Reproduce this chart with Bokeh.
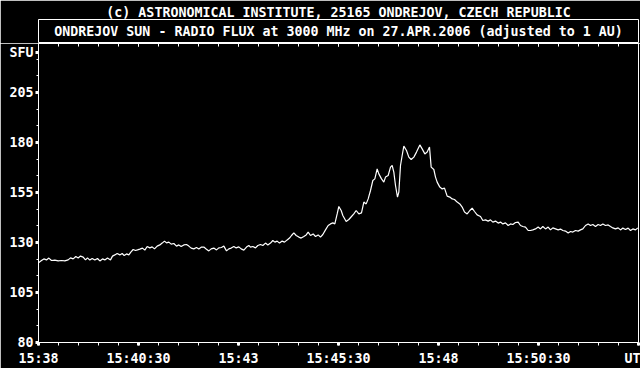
from bokeh.plotting import figure
from bokeh.models import Range1d, FixedTicker, LinearAxis, Label
from bokeh.layouts import column
from bokeh.embed import file_html
from bokeh.resources import INLINE

copyright_text = "(c) ASTRONOMICAL INSTITUTE, 25165 ONDREJOV, CZECH REPUBLIC"
box_title = "ONDREJOV SUN - RADIO FLUX at 3000 MHz on 27.APR.2006 (adjusted to 1 AU)"

# seconds after 15:38:00 UT
t_sec = [0, 4.5, 8, 12, 15.5, 19.5, 24.5, 29.5, 34.5, 39.5, 44.5, 48, 52, 56, 59.5, 63, 67, 70.5,
         73.5, 77, 80.5, 84.5, 88.5, 92, 96, 99.5, 103.5, 108, 111, 114.5, 118, 122, 125.5, 128.5,
         132, 135.5, 138.5, 142, 145.5, 148.5, 152, 156, 159.5, 163, 167, 170.5, 174, 178, 182,
         185.5, 189, 192, 195.5, 199, 203, 207, 210.5, 214, 218, 222, 225.5, 229, 233, 237, 240.5,
         244.5, 248, 251.5, 255.5, 259, 263, 267, 270.5, 274.5, 278, 282, 285.5, 289, 293, 296.5,
         300.5, 304, 308, 312, 315.5, 318, 321.5, 325.5, 329, 333, 336.5, 340.5, 344, 348, 351.5,
         354.5, 358, 361.5, 365.5, 369, 373, 376.5, 379.5, 383, 386.5, 390.5, 394, 398, 401.5,
         404.5, 408, 412, 415.5, 419.5, 423, 426.5, 430.5, 434.5, 438, 441.5, 444.5, 448, 450.5,
         454, 456.5, 461.5, 465.5, 469.5, 473, 476.5, 480.5, 484.5, 488, 491.5, 494.5, 498, 501.5,
         504.5, 508, 510.5, 514.5, 518, 520.5, 524.5, 528, 530.5, 533, 535.5, 538.5, 540.5, 543,
         545.5, 548, 552, 555.5, 559, 563, 567, 572, 575.5, 579.5, 583, 586.5, 589, 593, 595.5,
         598, 602, 605.5, 609, 613, 617, 620.5, 624, 628, 632, 635.5, 639, 643, 647, 650.5, 654,
         658, 663, 666.5, 670.5, 674.5, 678, 681.5, 685.5, 689.5, 693, 696.5, 700.5, 704.5, 708,
         711.5, 715.5, 719.5, 723, 726.5, 730.5, 734.5, 738, 741.5, 745.5, 749.5, 753, 756.5,
         760.5, 764.5, 768, 771.5, 775.5, 779.5, 783, 786.5, 790.5, 794.5, 798, 801.5, 805.5,
         809.5, 813, 816.5, 820.5, 824.5, 828, 831.5, 835.5, 839.5, 843, 846.5, 850.5, 854.5,
         858, 861.5, 865.5, 869.5, 873, 876.5, 880.5, 884.5, 888, 891.5, 895.5, 899]

flux_sfu = [119.9, 121.0, 121.8, 121.3, 122.2, 121.0, 121.2, 120.8, 121.0, 120.8, 121.3, 122.3, 121.8,
            123.0, 122.3, 123.2, 122.7, 121.3, 122.3, 121.2, 122.0, 121.2, 122.0, 120.8, 121.8, 121.3,
            122.2, 121.3, 123.2, 123.8, 124.5, 123.8, 124.5, 123.5, 124.3, 123.8, 125.2, 126.5, 126.0,
            126.3, 126.7, 127.2, 126.2, 128.0, 127.3, 127.8, 126.8, 128.2, 128.8, 129.7, 130.7, 129.8,
            130.2, 129.2, 129.5, 128.2, 128.8, 128.0, 128.8, 129.0, 128.2, 127.2, 126.8, 127.5, 126.8,
            127.7, 127.7, 126.8, 125.8, 126.8, 127.2, 126.3, 127.3, 127.5, 128.2, 125.8, 126.8, 127.2,
            128.0, 127.3, 127.8, 126.8, 126.2, 127.7, 128.5, 127.7, 128.0, 127.3, 128.5, 129.0, 128.5,
            129.7, 128.8, 129.7, 131.0, 130.2, 130.7, 129.7, 130.7, 130.2, 131.3, 132.2, 133.5, 134.8,
            133.5, 132.7, 132.2, 133.0, 133.8, 135.2, 133.5, 134.3, 133.0, 133.8, 132.7, 134.0, 136.3,
            138.5, 139.3, 139.8, 139.3, 144.3, 148.0, 146.0, 143.5, 140.5, 141.5, 143.0, 144.3, 146.0,
            144.3, 144.8, 150.2, 149.3, 151.8, 156.0, 161.0, 161.8, 166.8, 164.3, 161.8, 160.2, 162.7,
            163.5, 167.7, 168.5, 165.2, 158.5, 152.7, 155.2, 168.5, 173.5, 178.2, 176.0, 172.7, 171.5,
            172.7, 175.2, 178.8, 176.8, 174.3, 175.2, 177.7, 167.7, 166.5, 162.7, 160.2, 157.7, 156.8,
            157.2, 153.2, 152.7, 151.8, 151.5, 150.2, 149.3, 147.7, 145.2, 144.3, 146.0, 147.2, 145.5,
            143.8, 143.0, 141.0, 141.3, 140.7, 141.3, 140.2, 140.7, 139.7, 140.2, 139.3, 139.8, 138.5,
            139.3, 139.0, 140.0, 140.2, 138.5, 138.0, 137.7, 136.0, 136.0, 136.3, 136.8, 137.7, 136.8,
            138.0, 136.8, 137.7, 136.3, 137.3, 136.8, 136.3, 136.7, 136.0, 135.7, 134.8, 135.5, 135.2,
            136.0, 135.7, 136.3, 136.8, 138.5, 139.3, 138.5, 139.0, 138.0, 139.0, 138.5, 139.3, 138.5,
            138.8, 138.0, 137.3, 136.8, 137.3, 136.3, 137.2, 136.5, 137.2, 136.0, 136.8, 136.3, 137.3]

x_ticks = [0, 150, 300, 450, 600, 750, 900]
x_tick_labels = ["15:38", "15:40:30", "15:43", "15:45:30", "15:48", "15:50:30", "UT"]
x_minor_ticks = list(range(0, 901, 30))

y_ticks = [80, 105, 130, 155, 180, 205, 225]
y_tick_labels = ["80", "105", "130", "155", "180", "205", "SFU"]
y_minor_ticks = [80 + i * 25 / 3 for i in range(0, 18)]

FONT = "DejaVu Sans Mono"
FSIZE = "13.3px"
WHITE = "white"

# ---- title box figure ----
top = figure(width=640, height=43, x_range=Range1d(0, 1), y_range=Range1d(0, 1),
             toolbar_location=None, output_backend="svg",
             x_axis_location=None, y_axis_location=None,
             min_border_left=38, min_border_right=2, min_border_top=19, min_border_bottom=0,
             background_fill_color="black", border_fill_color="black",
             outline_line_color=WHITE, outline_line_width=1)
top.grid.visible = False
top.title.text = copyright_text
top.title.align = "center"
top.title.text_color = WHITE
top.title.text_font = FONT
top.title.text_font_size = FSIZE
top.title.text_font_style = "bold"
top.title.text_line_height = 0.8
top.title.standoff = 0
top.title.offset = 0
top.add_layout(Label(x=0.5, y=0.5, text=box_title, text_align="center", text_baseline="middle",
                     text_color=WHITE, text_font=FONT, text_font_size=FSIZE,
                     text_font_style="bold"))

# ---- main chart ----
p = figure(width=640, height=325, x_range=Range1d(0, 900), y_range=Range1d(80, 229.5),
           toolbar_location=None, output_backend="svg",
           min_border_left=38, min_border_right=2, min_border_top=0, min_border_bottom=26,
           background_fill_color="black", border_fill_color="black",
           outline_line_color=WHITE, outline_line_width=1)
p.grid.visible = False

p.line(t_sec, flux_sfu, line_color=WHITE, line_width=1.2)

xt = FixedTicker(ticks=x_ticks, minor_ticks=x_minor_ticks)
yt = FixedTicker(ticks=y_ticks, minor_ticks=y_minor_ticks)

xa = p.xaxis[0]
xa.ticker = xt
xa.major_label_overrides = {t: l for t, l in zip(x_ticks, x_tick_labels)}
ya = p.yaxis[0]
ya.ticker = yt
ya.major_label_overrides = {t: l for t, l in zip(y_ticks, y_tick_labels)}

for ax in (xa, ya):
    ax.axis_line_color = WHITE
    ax.major_tick_line_color = WHITE
    ax.minor_tick_line_color = WHITE
    ax.major_label_text_color = WHITE
    ax.major_label_text_font = FONT
    ax.major_label_text_font_size = FSIZE
    ax.major_label_text_font_style = "bold"
    ax.major_tick_in = 0
    ax.minor_tick_in = 0
    ax.major_tick_line_width = 3
    ax.minor_tick_line_width = 1

xa.major_tick_out = 3
xa.minor_tick_out = 3
xa.major_label_standoff = 5
ya.major_tick_out = 3
ya.minor_tick_out = 2
ya.major_label_standoff = 2

top_axis = LinearAxis(ticker=xt, major_label_overrides={t: "" for t in x_ticks},
                      major_label_standoff=0,
                      major_tick_in=3, major_tick_out=0, minor_tick_in=3, minor_tick_out=0,
                      axis_line_color=WHITE, major_tick_line_color=WHITE,
                      minor_tick_line_color=WHITE)
p.add_layout(top_axis, "above")

layout = column(top, p, spacing=0)
open("out.html", "w").write(file_html(layout, INLINE))
